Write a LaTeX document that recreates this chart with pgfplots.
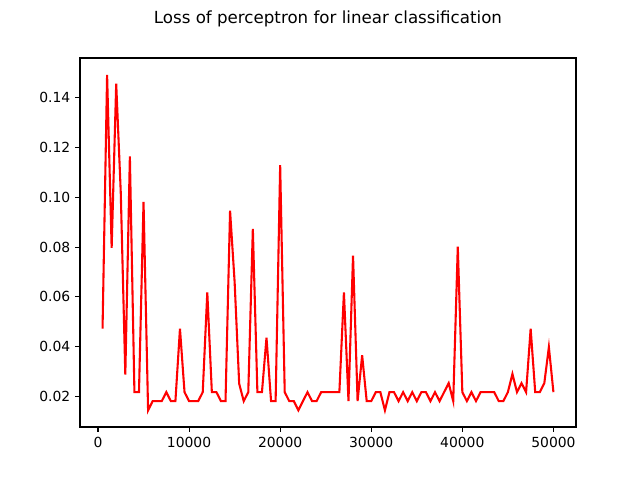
\documentclass[border=0pt]{standalone}
\usepackage{pgfplots}
\pgfplotsset{compat=1.18}
\usepackage{fontspec}
\setmainfont{DejaVu Sans}
\begin{document}
\begin{tikzpicture}
\path[use as bounding box] (0,0) rectangle (460.8pt,345.6pt);
\begin{axis}[at={(57.6pt,38.16pt)}, anchor=south west, scale only axis,
width=357.1pt, height=265.7pt,
xmin=-1975, xmax=52475, ymin=0.0077, ymax=0.156,
xtick={0,10000,...,50000}, ytick={0.02,0.04,...,0.141},
scaled ticks=false,
xticklabel style={/pgf/number format/.cd,fixed,1000 sep={}},
yticklabel style={/pgf/number format/.cd,fixed,fixed zerofill,precision=2},
/pgf/number format/assume math mode=true,
tick label style={font=\fontsize{10}{12}\selectfont},
tick align=outside, tick style={black, line width=0.8pt}, major tick length=3.5pt,
xtick pos=bottom, ytick pos=left,
axis line style={line width=0.8pt},
title={Loss of perceptron for linear classification},
title style={font=\fontsize{12}{14}\selectfont, at={(0.5,1)}, yshift=12.5pt, anchor=south},
]
\addplot[red, line width=1.5pt, mark=none] coordinates {
(500,0.0472)(1000,0.1492)(1500,0.0797)(2000,0.1457)(2500,0.102)(3000,0.0288)(3500,0.1164)(4000,0.0217)(4500,0.0217)(5000,0.0982)
(5500,0.0144)(6000,0.0181)(6500,0.0181)(7000,0.0181)(7500,0.0217)(8000,0.0181)(8500,0.0181)(9000,0.0472)(9500,0.0217)(10000,0.0181)
(10500,0.0181)(11000,0.0181)(11500,0.0217)(12000,0.0618)(12500,0.0217)(13000,0.0217)(13500,0.0181)(14000,0.0181)(14500,0.0946)(15000,0.066)
(15500,0.0251)(16000,0.0181)(16500,0.0217)(17000,0.0873)(17500,0.0217)(18000,0.0217)(18500,0.0436)(19000,0.0181)(19500,0.0181)(20000,0.1129)
(20500,0.0217)(21000,0.0181)(21500,0.0181)(22000,0.0144)(22500,0.0181)(23000,0.0217)(23500,0.0181)(24000,0.0181)(24500,0.0217)(25000,0.0217)
(25500,0.0217)(26000,0.0217)(26500,0.0217)(27000,0.0618)(27500,0.0181)(28000,0.0766)(28500,0.0181)(29000,0.0365)(29500,0.0181)(30000,0.0181)
(30500,0.0217)(31000,0.0217)(31500,0.0144)(32000,0.0217)(32500,0.0217)(33000,0.0181)(33500,0.0217)(34000,0.0181)(34500,0.0217)(35000,0.0181)
(35500,0.0217)(36000,0.0217)(36500,0.0181)(37000,0.0217)(37500,0.0181)(38000,0.0217)(38500,0.0253)(39000,0.0181)(39500,0.0802)(40000,0.0217)
(40500,0.0181)(41000,0.0217)(41500,0.0181)(42000,0.0217)(42500,0.0217)(43000,0.0217)(43500,0.0217)(44000,0.0181)(44500,0.0181)(45000,0.0217)
(45500,0.029)(46000,0.0217)(46500,0.0253)(47000,0.0217)(47500,0.0472)(48000,0.0217)(48500,0.0217)(49000,0.0253)(49500,0.0398)(50000,0.0217)
};
\end{axis}
\end{tikzpicture}
\end{document}
